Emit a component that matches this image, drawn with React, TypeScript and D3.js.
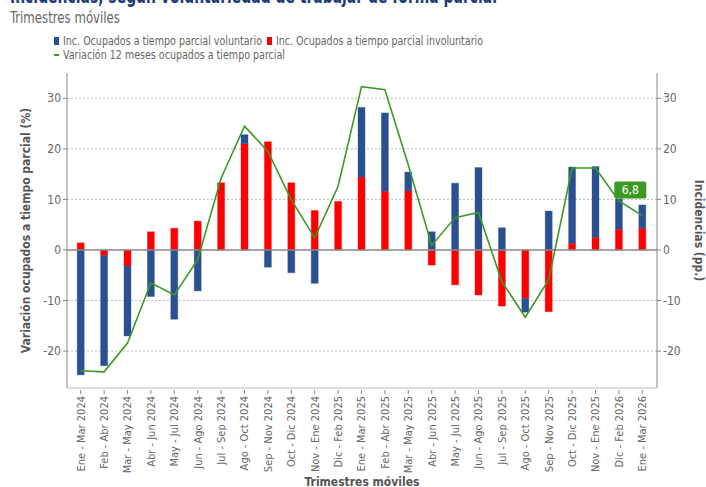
import * as d3 from 'd3';
import React from 'react';

const categories = [
  'Ene - Mar 2024', 'Feb - Abr 2024', 'Mar - May 2024', 'Abr - Jun 2024', 'May - Jul 2024',
  'Jun - Ago 2024', 'Jul - Sep 2024', 'Ago - Oct 2024', 'Sep - Nov 2024', 'Oct - Dic 2024',
  'Nov - Ene 2024', 'Dic - Feb 2025', 'Ene - Mar 2025', 'Feb - Abr 2025', 'Mar - May 2025',
  'Abr - Jun 2025', 'May - Jul 2025', 'Jun - Ago 2025', 'Jul - Sep 2025', 'Ago - Oct 2025',
  'Sep - Nov 2025', 'Oct - Dic 2025', 'Nov - Ene 2025', 'Dic - Feb 2026', 'Ene - Mar 2026'
];
const voluntario = [
  -24.7, -21.8, -13.8, -9.2, -13.7, -8.1, 0, 1.8, -3.4, -4.5, -6.6, 0, 13.8,
  15.5, 3.7, 3.6, 13.2, 16.3, 4.4, -2.7, 7.7, 15.1, 14.0, 6.0, 4.6
];
const involuntario = [
  1.4, -1.1, -3.2, 3.6, 4.3, 5.7, 13.3, 21.0, 21.4, 13.3, 7.8, 9.6, 14.4,
  11.6, 11.7, -3.0, -6.9, -8.9, -11.1, -9.6, -12.2, 1.3, 2.5, 4.1, 4.3
];
const variacion = [
  -23.9, -24.1, -18.4, -6.5, -8.9, -1.9, 14.2, 24.5, 19.5, 9.9, 2.4, 12.6, 32.3,
  31.7, 16.8, 0.9, 6.4, 7.4, -6.3, -13.3, -5.9, 16.2, 16.2, 9.7, 6.8
];
const yTicks = [-20, -10, 0, 10, 20, 30];

const W = 706, H = 487;
const left = 67, right = 657, top = 73, bottom = 388;
const FONT = '"DejaVu Sans Condensed", "DejaVu Sans", sans-serif';
const BLUE = '#2b5091', RED = '#ff0000', GREEN = '#3c9a22', GRAY = '#666';

export default function App() {
  const x = d3.scaleBand<string>().domain(categories).range([69, 654]);
  const y = d3.scaleLinear().domain([-27.3, 35]).range([bottom, top]);

  const rows = categories.map((c, i) => ({ cat: c, inv: involuntario[i], vol: voluntario[i] }));
  const series = d3.stack<any>().keys(['inv', 'vol']).offset(d3.stackOffsetDiverging)(rows);
  const colors: Record<string, string> = { inv: RED, vol: BLUE };
  const bw = 7;
  const cx = (c: string) => (x(c) as number) + x.bandwidth() / 2;

  const line = d3.line<number>().x((_, i) => cx(categories[i])).y(d => y(d));
  const last = categories.length - 1;
  const lx = cx(categories[last]), ly = y(variacion[last]);

  return (
    <svg width={W} height={H} style={{ position: 'absolute', left: 0, top: 0, fontFamily: FONT }}>
      <rect width={W} height={H} fill="#fff" />
      <text x={10} y={3} fontSize={21} fontWeight="bold" fill="#1d3c78" textLength={487} lengthAdjust="spacingAndGlyphs">Incidencias, según voluntariedad de trabajar de forma parcial</text>
      <text x={10} y={23} fontSize={16} fill={GRAY} textLength={110} lengthAdjust="spacingAndGlyphs">Trimestres móviles</text>

      <g fontSize={11.5} fill={GRAY}>
        <rect x={54} y={37} width={5} height={8} fill={BLUE} />
        <text x={63} y={45} textLength={199} lengthAdjust="spacingAndGlyphs">Inc. Ocupados a tiempo parcial voluntario</text>
        <rect x={267} y={37} width={5} height={8} fill={RED} />
        <text x={276} y={45} textLength={207} lengthAdjust="spacingAndGlyphs">Inc. Ocupados a tiempo parcial involuntario</text>
        <rect x={54} y={54} width={5} height={2} fill={GREEN} />
        <text x={63} y={59} textLength={222} lengthAdjust="spacingAndGlyphs">Variación 12 meses ocupados a tiempo parcial</text>
      </g>

      {yTicks.filter(t => t !== 0).map(t => (
        <line key={t} x1={left} x2={right} y1={y(t)} y2={y(t)} stroke="#bbb" strokeDasharray="2,2" />
      ))}

      {series.map(s => (
        <g key={s.key} fill={colors[s.key]} stroke={colors[s.key]} strokeOpacity={0.35}>
          {s.map((d: any, i: number) => {
            const y0 = y(d[0]), y1 = y(d[1]);
            if (Math.abs(y1 - y0) < 0.01) return null;
            return <rect key={i} x={cx(categories[i]) - bw / 2} y={Math.min(y0, y1)} width={bw} height={Math.abs(y1 - y0)} />;
          })}
        </g>
      ))}

      <line x1={left} x2={right} y1={y(0)} y2={y(0)} stroke="#888" strokeWidth={1.5} />
      <line x1={left} x2={left} y1={top} y2={bottom} stroke="#888" />
      <line x1={right} x2={right} y1={top} y2={bottom} stroke="#888" />
      <line x1={left} x2={right} y1={bottom} y2={bottom} stroke="#bbb" />

      <path d={line(variacion) || ''} fill="none" stroke={GREEN} strokeWidth={1.6} />

      <g fontSize={12} fill={GRAY}>
        {yTicks.map(t => (
          <g key={t}>
            <line x1={left - 4} x2={left} y1={y(t)} y2={y(t)} stroke="#888" />
            <text x={left - 6} y={y(t)} dy="0.35em" textAnchor="end">{t}</text>
            <line x1={right} x2={right + 4} y1={y(t)} y2={y(t)} stroke="#888" />
            <text x={right + 6} y={y(t)} dy="0.35em">{t}</text>
          </g>
        ))}
      </g>

      <g fontSize={11} fill={GRAY}>
        {categories.map(c => (
          <g key={c} transform={`translate(${cx(c)},${bottom})`}>
            <line y1={2} y2={6} stroke="#888" />
            <text transform="rotate(-90)" x={-8} y={0} dy="0.35em" textAnchor="end">{c}</text>
          </g>
        ))}
      </g>

      <text transform={`translate(30,${(top + bottom) / 2}) rotate(-90)`} textAnchor="middle" fontSize={12} fontWeight="bold" fill="#555">Variación ocupados a tiempo parcial (%)</text>
      <text transform={`translate(695,${(top + bottom) / 2}) rotate(90)`} textAnchor="middle" fontSize={12} fontWeight="bold" fill="#555">Incidencias (pp.)</text>
      <text x={362} y={486} textAnchor="middle" fontSize={12} fontWeight="bold" fill="#555">Trimestres móviles</text>

      <g transform={`translate(${lx - 28},${ly - 34})`}>
        <rect width={32} height={17} rx={2} fill={GREEN} />
        <text x={16} y={12.5} textAnchor="middle" fontSize={12} fill="#fff">6,8</text>
      </g>
    </svg>
  );
}
